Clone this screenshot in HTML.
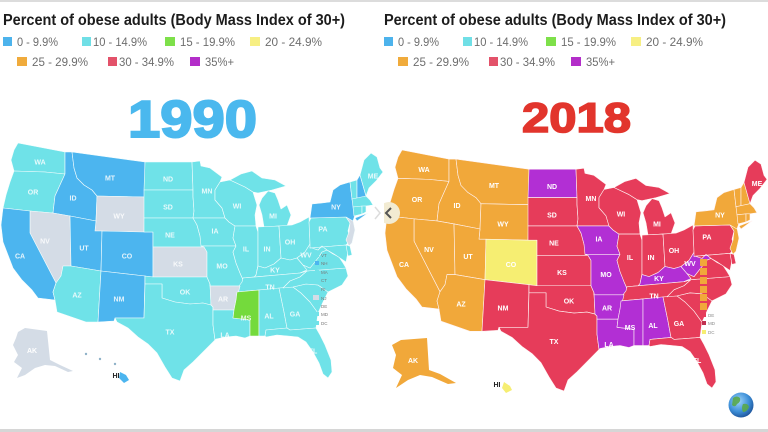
<!DOCTYPE html>
<html><head><meta charset="utf-8"><style>
html,body{margin:0;padding:0;background:#fff;width:768px;height:432px;overflow:hidden}
svg{display:block}
.t{font-family:"Liberation Sans",Arial,sans-serif}
</style></head><body>
<svg width="768" height="432" viewBox="0 0 768 432" xmlns="http://www.w3.org/2000/svg">
<defs>
<polygon id="WA" points="18,143 65,152 65,174 45,172 14,171 11,160 14,150"/>
<polygon id="OR" points="14,171 45,172 65,174 60,185 55,196 53,213 30,211 3,208 6,195 10,182"/>
<polygon id="ID" points="65,152 72,152 74,168 77,178 84,185 92,190 97,196 96,221 70,216 53,213 55,196 60,185 65,174"/>
<polygon id="MT" points="72,152 145,162 145,197 97,196 92,190 84,185 77,178 74,168"/>
<polygon id="WY" points="97,196 145,197 144,232 95,231 96,221"/>
<polygon id="NV" points="30,211 53,213 70,216 71,266 63,266 61,276 56,283 30,233"/>
<polygon id="CA" points="3,208 30,211 30,233 56,283 53,292 55,300 38,298 32,290 22,280 13,268 8,255 3,242 1,225"/>
<polygon id="UT" points="70,216 96,221 95,231 102,231 101,271 71,266"/>
<polygon id="CO" points="102,231 144,232 153,232 153,277 101,271"/>
<polygon id="AZ" points="71,266 101,271 98,322 86,322 57,312 55,300 53,292 56,283 61,276 63,266"/>
<polygon id="NM" points="101,271 145,276 144,318 115,318 114,321 98,322"/>
<polygon id="ND" points="145,162 192,162 193,190 144,190"/>
<polygon id="SD" points="144,190 193,190 193,197 194,211 193,218 144,218"/>
<polygon id="NE" points="144,218 193,218 197,225 200,236 204,247 153,247 153,232 144,232"/>
<polygon id="KS" points="153,247 204,247 207,252 207,277 153,277"/>
<polygon id="OK" points="145,276 153,277 207,277 210,284 211,305 203,303 190,304 175,302 162,298 162,284 145,284"/>
<polygon id="TX" points="145,284 162,284 162,298 175,302 190,304 203,303 211,305 213,307 213,325 215,340 205,350 193,362 184,370 180,381 172,378 165,367 157,353 148,344 138,337 128,328 117,322 115,318 144,318"/>
<polygon id="MN" points="192,162 200,161 201,166 210,168 222,177 220,182 215,190 215,200 222,208 225,218 193,218 194,211 193,197 193,190"/>
<polygon id="IA" points="193,218 225,218 229,222 235,226 233,238 236,246 201,246 200,236 197,225"/>
<polygon id="MO" points="201,246 236,246 233,252 236,263 240,273 244,282 246,290 240,291 240,286 210,286 210,284 207,277 207,252 204,247"/>
<polygon id="WI" points="220,182 230,180 245,187 253,192 257,205 255,215 256,226 235,226 229,222 225,218 222,208 215,200 215,190"/>
<polygon id="MIU" points="230,180 241,174 252,171 262,178 275,180 286,186 272,190 258,193 253,192 245,187"/>
<polygon id="MIL" points="262,198 268,191 275,193 278,200 281,209 287,205 291,215 287,226 278,226 264,227 262,215 259,205"/>
<polygon id="IL" points="235,226 256,226 258,232 258,265 256,275 250,282 244,282 240,273 236,263 233,252 236,246 233,238"/>
<polygon id="IN" points="258,227 279,226 281,258 274,264 265,268 258,266 258,232"/>
<polygon id="OH" points="279,226 292,225 300,222 309,217 310,244 305,252 297,258 290,260 281,258"/>
<polygon id="KY" points="244,282 250,282 256,275 258,266 265,268 274,264 281,258 290,260 297,258 303,265 307,270 300,273 243,278"/>
<polygon id="TN" points="243,278 300,273 307,271 300,277 290,281 283,288 259,290 237,292 239,286 242,282"/>
<polygon id="AR" points="210,286 240,286 239,290 236,300 234,310 213,310 213,307 211,305 210,284"/>
<polygon id="LA" points="213,310 234,310 233,318 250,320 250,336 245,338 236,336 226,337 216,339 215,340 213,325"/>
<polygon id="MS" points="237,292 259,290 259,336 250,336 250,320 233,318 234,310 236,300"/>
<polygon id="AL" points="259,290 279,288 284,312 287,328 266,330 265,336 259,336"/>
<polygon id="GA" points="279,288 293,287 301,293 310,302 318,313 316,328 290,330 287,328 284,312"/>
<polygon id="FL" points="266,330 287,328 290,330 316,328 320,335 325,345 331,360 332,372 328,378 323,374 319,363 313,352 306,342 298,337 288,336 277,335 266,337 265,336"/>
<polygon id="SC" points="293,287 306,284 318,285 328,292 323,302 318,313 310,302 301,293"/>
<polygon id="NC" points="283,288 290,281 300,277 307,271 346,268 348,276 342,285 328,292 318,285 306,284 293,287"/>
<polygon id="VA" points="300,273 307,270 303,265 310,268 318,258 322,252 327,250 333,254 339,257 343,263 346,268 307,271"/>
<polygon id="WV" points="297,258 305,252 310,244 312,248 318,250 322,246 327,250 322,252 318,258 310,268 303,265"/>
<polygon id="PA" points="309,222 311,218 346,217 350,223 348,231 351,240 346,245 310,248 310,244"/>
<polygon id="MD" points="310,248 346,245 348,252 346,262 340,258 334,254 327,250 322,246 318,250 312,248"/>
<polygon id="DE" points="346,245 350,246 352,255 348,256"/>
<polygon id="NJ" points="346,217 353,220 355,230 352,243 349,246 346,240 349,232 350,223"/>
<polygon id="NY" points="310,218 312,204 322,203 330,202 333,190 340,185 350,182 352,199 354,208 355,215 353,221 346,217"/>
<polygon id="LI" points="355,218 368,213 357,221"/>
<polygon id="VT" points="350,182 357,180 357,199 352,199"/>
<polygon id="NH" points="357,180 360,175 366,196 357,199"/>
<polygon id="ME" points="360,175 364,160 371,153 377,157 380,168 383,172 376,181 369,188 366,196"/>
<polygon id="MA" points="352,199 366,196 370,200 373,205 366,206 353,207"/>
<polygon id="CT" points="353,207 362,206 362,214 354,216"/>
<polygon id="RI" points="362,206 366,206 366,212 362,214"/>
<g id="labels" class="t" font-size="7" font-weight="bold" fill="#fff" text-anchor="middle">
<text x="40" y="164.5">WA</text><text x="33" y="194.5">OR</text><text x="73" y="200.5">ID</text><text x="110" y="180.5">MT</text>
<text x="119" y="218.5">WY</text><text x="45" y="243.5">NV</text><text x="84" y="250.5">UT</text><text x="127" y="258.5">CO</text>
<text x="20" y="258.5">CA</text><text x="77" y="297.5">AZ</text><text x="119" y="301.5">NM</text><text x="168" y="181.5">ND</text>
<text x="168" y="209.5">SD</text><text x="170" y="237.5">NE</text><text x="178" y="266.5">KS</text><text x="185" y="294.5">OK</text>
<text x="170" y="334.5">TX</text><text x="207" y="193.5">MN</text><text x="237" y="208.5">WI</text><text x="273" y="218.5">MI</text>
<text x="215" y="233.5">IA</text><text x="222" y="268.5">MO</text><text x="223" y="301.5">AR</text><text x="225" y="337.5">LA</text>
<text x="246" y="320.5">MS</text><text x="269" y="318.5">AL</text><text x="295" y="316.5">GA</text><text x="313" y="353.5">FL</text>
<text x="246" y="251.5">IL</text><text x="267" y="251.5">IN</text><text x="290" y="244.5">OH</text><text x="275" y="272.5">KY</text>
<text x="270" y="289.5">TN</text><text x="306" y="257.5">WV</text><text x="323" y="231.5">PA</text><text x="336" y="209.5">NY</text>
<text x="373" y="178.5">ME</text>
</g>
<g id="hdr" class="t">
<text x="3" y="25" font-size="16" font-weight="bold" fill="#1c1c1c" textLength="342" lengthAdjust="spacingAndGlyphs">Percent of obese adults (Body Mass Index of 30+)</text>
<g font-size="12" fill="#6e6e6e">
<rect x="3" y="37" width="9" height="9" fill="#4db3ec"/><text x="17" y="46" textLength="41" lengthAdjust="spacingAndGlyphs">0 - 9.9%</text>
<rect x="82" y="37" width="9" height="9" fill="#70dfe6"/><text x="93" y="46" textLength="54" lengthAdjust="spacingAndGlyphs">10 - 14.9%</text>
<rect x="165" y="37" width="10" height="9" fill="#7ee04a"/><text x="180" y="46" textLength="55" lengthAdjust="spacingAndGlyphs">15 - 19.9%</text>
<rect x="250" y="37" width="10" height="9" fill="#f7ef83"/><text x="265" y="46" textLength="57" lengthAdjust="spacingAndGlyphs">20 - 24.9%</text>
<rect x="17" y="57" width="10" height="9" fill="#f0ab3c"/><text x="32" y="66" textLength="56" lengthAdjust="spacingAndGlyphs">25 - 29.9%</text>
<rect x="108" y="57" width="9" height="9" fill="#e3526a"/><text x="119" y="66" textLength="55" lengthAdjust="spacingAndGlyphs">30 - 34.9%</text>
<rect x="190" y="57" width="10" height="9" fill="#b32ec9"/><text x="205" y="66" textLength="29" lengthAdjust="spacingAndGlyphs">35%+</text>
</g>
</g>
<clipPath id="rc"><rect x="384" y="0" width="384" height="432"/></clipPath>
<radialGradient id="gl" cx="0.4" cy="0.35" r="0.7">
<stop offset="0" stop-color="#9fd4fa"/><stop offset="0.6" stop-color="#3d8fd8"/><stop offset="1" stop-color="#1b4f95"/>
</radialGradient>
</defs>

<rect width="768" height="432" fill="#fff"/>
<rect x="0" y="0" width="768" height="2" fill="#dcdcdc"/>
<rect x="0" y="429" width="768" height="3" fill="#d6d6d6"/>

<use href="#hdr"/>
<g clip-path="url(#rc)"><use href="#hdr" transform="translate(381,0)"/></g>

<text class="t" x="128" y="137" font-size="52" font-weight="bold" fill="#4ab8ee" stroke="#4ab8ee" stroke-width="2" textLength="129" lengthAdjust="spacingAndGlyphs">1990</text>
<text class="t" x="522" y="132" font-size="42" font-weight="bold" fill="#e2352c" stroke="#e2352c" stroke-width="1.6" textLength="109" lengthAdjust="spacingAndGlyphs">2018</text>

<!-- 1990 map -->
<g stroke="#f4fdfd" stroke-width="0.6" stroke-linejoin="round">
<use href="#WA" fill="#6fe2e8"/><use href="#OR" fill="#6fe2e8"/><use href="#ID" fill="#4cb5ef"/><use href="#MT" fill="#4cb5ef"/>
<use href="#WY" fill="#d4dce6"/><use href="#NV" fill="#d4dce6"/><use href="#CA" fill="#4cb5ef"/><use href="#UT" fill="#4cb5ef"/>
<use href="#CO" fill="#4cb5ef"/><use href="#AZ" fill="#6fe2e8"/><use href="#NM" fill="#4cb5ef"/><use href="#ND" fill="#6fe2e8"/>
<use href="#SD" fill="#6fe2e8"/><use href="#NE" fill="#6fe2e8"/><use href="#KS" fill="#d4dce6"/><use href="#OK" fill="#6fe2e8"/>
<use href="#TX" fill="#6fe2e8"/><use href="#MN" fill="#6fe2e8"/><use href="#IA" fill="#6fe2e8"/><use href="#MO" fill="#6fe2e8"/>
<use href="#WI" fill="#6fe2e8"/><use href="#MIU" fill="#6fe2e8"/><use href="#MIL" fill="#6fe2e8"/><use href="#IL" fill="#6fe2e8"/>
<use href="#IN" fill="#6fe2e8"/><use href="#OH" fill="#6fe2e8"/><use href="#KY" fill="#6fe2e8"/><use href="#TN" fill="#6fe2e8"/>
<use href="#AR" fill="#d4dce6"/><use href="#LA" fill="#6fe2e8"/><use href="#MS" fill="#74da3c"/><use href="#AL" fill="#6fe2e8"/>
<use href="#GA" fill="#6fe2e8"/><use href="#FL" fill="#6fe2e8"/><use href="#SC" fill="#6fe2e8"/><use href="#NC" fill="#6fe2e8"/>
<use href="#VA" fill="#6fe2e8"/><use href="#WV" fill="#6fe2e8"/><use href="#PA" fill="#6fe2e8"/><use href="#MD" fill="#6fe2e8"/>
<use href="#DE" fill="#6fe2e8"/><use href="#NJ" fill="#d4dce6"/><use href="#NY" fill="#4cb5ef"/><use href="#LI" fill="#4cb5ef"/>
<use href="#VT" fill="#6fe2e8"/><use href="#NH" fill="#4cb5ef"/><use href="#ME" fill="#6fe2e8"/><use href="#MA" fill="#6fe2e8"/>
<use href="#CT" fill="#6fe2e8"/><use href="#RI" fill="#6fe2e8"/>
</g>
<use href="#labels" opacity="0.85"/>
<!-- AK / HI left -->
<polygon points="18,332 25,328 47,331 50,360 60,365 73,371 68,372 55,366 45,365 35,368 25,375 17,378 22,368 14,362 18,355 13,345 16,338" fill="#d4dce6"/>
<text class="t" x="32" y="353" font-size="7" font-weight="bold" fill="#fff" text-anchor="middle">AK</text>
<circle cx="86" cy="354" r="1.2" fill="#8fb2c8"/><circle cx="100" cy="359" r="1.2" fill="#8fb2c8"/><circle cx="115" cy="364" r="1.2" fill="#8fb2c8"/>
<polygon points="120,372 126,375 129,380 124,383 119,378" fill="#4cb5ef"/>
<text class="t" x="116" y="378" font-size="7" font-weight="bold" fill="#222" text-anchor="middle">HI</text>
<!-- small states legend left -->
<g class="t" font-size="4.5" fill="#777">
<rect x="315" y="253" width="4" height="4" fill="#6fe2e8"/><text x="321" y="257">VT</text>
<rect x="315" y="261" width="4" height="4" fill="#4cb5ef"/><text x="321" y="265">NH</text>
<rect x="315" y="270" width="4" height="4" fill="#6fe2e8"/><text x="321" y="274">MA</text>
<rect x="315" y="278" width="4" height="4" fill="#6fe2e8"/><text x="321" y="282">CT</text>
<rect x="315" y="287" width="4" height="4" fill="#6fe2e8"/><text x="321" y="291">RI</text>
<rect x="313" y="295" width="6" height="5" fill="#d4dce6"/><text x="321" y="300">NJ</text>
<rect x="315" y="304" width="4" height="4" fill="#6fe2e8"/><text x="321" y="308">DE</text>
<rect x="315" y="312" width="4" height="4" fill="#6fe2e8"/><text x="321" y="316">MD</text>
<rect x="315" y="321" width="4" height="4" fill="#6fe2e8"/><text x="321" y="325">DC</text>
</g>
<polyline points="375,207 380,213 375,219" fill="none" stroke="#dcdcdc" stroke-width="1.5"/>

<!-- 2018 map -->
<g transform="translate(384,150) scale(1,1.013) translate(0,-143)">
<g stroke="#fff3f3" stroke-width="0.6" stroke-linejoin="round">
<use href="#WA" fill="#f1a83a"/><use href="#OR" fill="#f1a83a"/><use href="#ID" fill="#f1a83a"/><use href="#MT" fill="#f1a83a"/>
<use href="#WY" fill="#f1a83a"/><use href="#NV" fill="#f1a83a"/><use href="#CA" fill="#f1a83a"/><use href="#UT" fill="#f1a83a"/>
<use href="#CO" fill="#f6ee72"/><use href="#AZ" fill="#f1a83a"/><use href="#NM" fill="#e63c5a"/><use href="#ND" fill="#b22fd4"/>
<use href="#SD" fill="#e63c5a"/><use href="#NE" fill="#e63c5a"/><use href="#KS" fill="#e63c5a"/><use href="#OK" fill="#e63c5a"/>
<use href="#TX" fill="#e63c5a"/><use href="#MN" fill="#e63c5a"/><use href="#IA" fill="#b22fd4"/><use href="#MO" fill="#b22fd4"/>
<use href="#WI" fill="#e63c5a"/><use href="#MIU" fill="#e63c5a"/><use href="#MIL" fill="#e63c5a"/><use href="#IL" fill="#e63c5a"/>
<use href="#IN" fill="#e63c5a"/><use href="#OH" fill="#e63c5a"/><use href="#KY" fill="#b22fd4"/><use href="#TN" fill="#e63c5a"/>
<use href="#AR" fill="#b22fd4"/><use href="#LA" fill="#b22fd4"/><use href="#MS" fill="#b22fd4"/><use href="#AL" fill="#b22fd4"/>
<use href="#GA" fill="#e63c5a"/><use href="#FL" fill="#e63c5a"/><use href="#SC" fill="#e63c5a"/><use href="#NC" fill="#e63c5a"/>
<use href="#VA" fill="#e63c5a"/><use href="#WV" fill="#b22fd4"/><use href="#PA" fill="#e63c5a"/><use href="#MD" fill="#e63c5a"/>
<use href="#DE" fill="#e63c5a"/><use href="#NJ" fill="#f1a83a"/><use href="#NY" fill="#f1a83a"/><use href="#LI" fill="#f1a83a"/>
<use href="#VT" fill="#f1a83a"/><use href="#NH" fill="#f1a83a"/><use href="#ME" fill="#e63c5a"/><use href="#MA" fill="#f1a83a"/>
<use href="#CT" fill="#f1a83a"/><use href="#RI" fill="#f1a83a"/>
</g>
<use href="#labels"/>
</g>
<!-- AK / HI right -->
<polygon points="401,340 427,338 429,370 440,374 456,383 448,384 432,377 420,375 408,380 396,388 402,375 393,368 396,355 392,345" fill="#f1a83a"/>
<text class="t" x="413" y="363" font-size="7" font-weight="bold" fill="#fff" text-anchor="middle">AK</text>
<polygon points="504,382 510,386 512,390 506,393 502,388" fill="#f6ee72"/>
<text class="t" x="497" y="387" font-size="7" font-weight="bold" fill="#222" text-anchor="middle">HI</text>
<!-- small states legend right -->
<g class="t" font-size="4.5" fill="#888">
<rect x="700" y="259" width="7" height="7" fill="#f1a83a"/>
<rect x="700" y="268" width="7" height="7" fill="#f1a83a"/>
<rect x="700" y="277" width="7" height="7" fill="#f1a83a"/>
<rect x="700" y="286" width="7" height="7" fill="#f1a83a"/>
<rect x="700" y="294" width="7" height="7" fill="#f1a83a"/>
<rect x="700" y="303" width="7" height="7" fill="#f1a83a"/>
<rect x="702" y="313" width="4" height="4" fill="#e63c5a"/><text x="708" y="317">DE</text>
<rect x="702" y="321" width="4" height="4" fill="#c03050"/><text x="708" y="325">MD</text>
<rect x="702" y="330" width="4" height="4" fill="#f6ee72"/><text x="708" y="334">DC</text>
</g>
<!-- right panel nav button -->
<g clip-path="url(#rc)">
<circle cx="389" cy="213" r="11" fill="#f2ebd2"/>
<polyline points="391,208 386,213 391,218" fill="none" stroke="#555" stroke-width="2"/>
</g>
<!-- globe -->
<circle cx="741" cy="405" r="12.5" fill="url(#gl)"/>
<path d="M733,398 q4,-3 7,0 q1,4 -3,6 q-2,4 -5,1 z M743,404 q5,-1 6,3 q-2,5 -6,5 q-2,-4 0,-8 z" fill="#5aa84a" opacity="0.9"/>
</svg>
</body></html>
